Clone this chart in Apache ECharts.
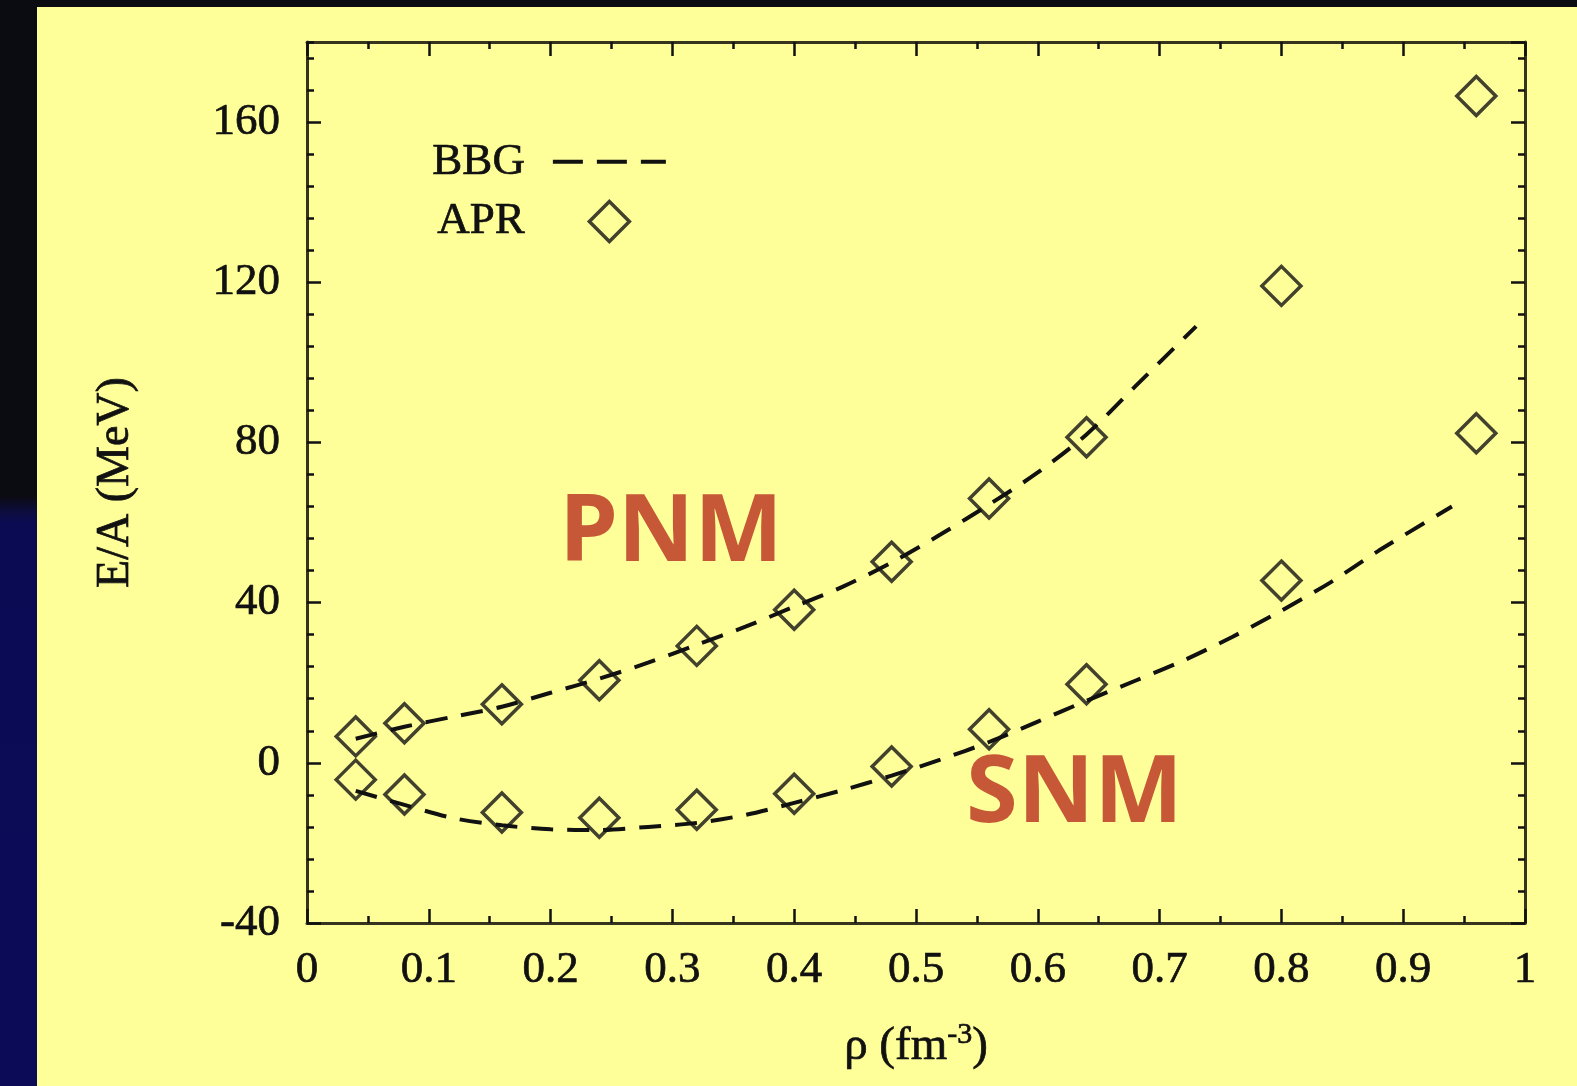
<!DOCTYPE html>
<html>
<head>
<meta charset="utf-8">
<script src="https://cdn.jsdelivr.net/npm/echarts@6/dist/echarts.min.js"></script>
<style>
  html, body { margin: 0; padding: 0; width: 1577px; height: 1086px; overflow: hidden; }
  body {
    background: linear-gradient(to bottom, #0b0b12 0px, #0b0b12 496px, #0d0d3a 510px, #0b0b54 524px, #0b0b58 1086px);
  }
  #panel { position: absolute; left: 37px; top: 7px; right: 0; bottom: 0; background: #ffff9a; }
  #chart { position: absolute; left: 0; top: 0; width: 1577px; height: 1086px; }
</style>
</head>
<body>
<div id="panel"></div>
<div id="chart"></div>
<script>
// Density grid (fm^-3) where the APR variational energies are given
const rho = [0.04, 0.08, 0.16, 0.24, 0.32, 0.40, 0.48, 0.56, 0.64, 0.80, 0.96];
// APR energy per nucleon (MeV): pure neutron matter and symmetric nuclear matter
const aprPNM = [6.6, 9.9, 14.6, 20.6, 29.2, 38.2, 50.2, 66.0, 81.3, 119.1, 166.5];
const aprSNM = [-4.2, -7.9, -12.4, -13.7, -11.7, -7.7, -0.9, 8.4, 19.6, 45.5, 82.3];

// BBG (Brueckner-Bethe-Goldstone) curves
const bbgPNMRho = [0.04, 0.08, 0.12, 0.16, 0.20, 0.24, 0.28, 0.32, 0.36, 0.40, 0.44, 0.48, 0.52, 0.56, 0.60, 0.64, 0.68, 0.73];
const bbgPNM    = [6.0, 9.0, 11.5, 14.0, 17.5, 21.0, 25.0, 29.5, 34.0, 39.0, 44.0, 50.0, 57.0, 64.5, 72.5, 82.0, 94.0, 109.0];
const bbgSNMRho = [0.04, 0.08, 0.12, 0.16, 0.20, 0.24, 0.28, 0.32, 0.36, 0.40, 0.44, 0.48, 0.52, 0.56, 0.60, 0.64, 0.68, 0.72, 0.76, 0.80, 0.84, 0.88, 0.94];
const bbgSNM    = [-7.0, -10.5, -13.8, -15.6, -16.6, -16.8, -16.0, -15.0, -13.0, -10.0, -6.8, -3.2, 0.8, 5.2, 10.3, 15.5, 20.5, 25.6, 31.5, 38.0, 45.0, 53.0, 64.0];

// Tick labels
const xTickLabels = ['0', '0.1', '0.2', '0.3', '0.4', '0.5', '0.6', '0.7', '0.8', '0.9', '1'];
const yTickLabels = ['-40', '0', '40', '80', '120', '160'];

// Hand-written matter labels placed in data space
const matterLabels = [
  { name: 'PNM', value: [0.299, 57] },
  { name: 'SNM', value: [0.630, -8] }
];

const pairs = (xs, ys) => xs.map((x, i) => [x, ys[i]]);

const SERIF = "'Liberation Serif', 'Times New Roman', 'DejaVu Serif', serif";
const INK = '#111';
const FRAME = '#36341e';
// a faint outline gives the serif glyphs a slightly heavier print weight
const inkText = { fontFamily: SERIF, color: INK, textBorderColor: INK, textBorderWidth: 0.7 };

function xAxisDef(position, interval, len, withLabels) {
  return {
    type: 'value', position: position, min: 0, max: 1, interval: interval,
    axisLine: { show: withLabels !== null, onZero: false, lineStyle: { color: FRAME, width: 3 } },
    axisTick: { show: true, inside: true, length: len, lineStyle: { color: INK, width: 2.5 } },
    axisLabel: withLabels ? Object.assign({
      show: true, margin: 25, fontSize: 45,
      formatter: v => xTickLabels[Math.round(v * 10)]
    }, inkText) : { show: false },
    splitLine: { show: false }
  };
}
function yAxisDef(position, interval, len, withLabels) {
  return {
    type: 'value', position: position, min: -40, max: 180, interval: interval,
    axisLine: { show: withLabels !== null, onZero: false, lineStyle: { color: FRAME, width: 3 } },
    axisTick: { show: true, inside: true, length: len, lineStyle: { color: INK, width: 2.5 } },
    axisLabel: withLabels ? Object.assign({
      show: true, margin: 27, fontSize: 45, showMaxLabel: false,
      formatter: v => { const i = Math.round((v + 40) / 40); return (v <= 160 && Math.abs(v - (i * 40 - 40)) < 1e-6) ? yTickLabels[i] : ''; }
    }, inkText) : { show: false },
    splitLine: { show: false }
  };
}

const xAxes = [
  xAxisDef('bottom', 0.1, 14, true),
  xAxisDef('bottom', 0.05, 7, null),
  xAxisDef('top', 0.1, 14, false),
  xAxisDef('top', 0.05, 7, null)
];
xAxes[0].name = '{a|ρ (fm}{s|-3}{a|)}';
xAxes[0].nameLocation = 'middle';
xAxes[0].nameGap = 97;
xAxes[0].nameTextStyle = {
  rich: {
    a: Object.assign({ fontSize: 47, lineHeight: 54 }, inkText),
    s: Object.assign({ fontSize: 30, verticalAlign: 'top', lineHeight: 32 }, inkText)
  }
};

const yAxes = [
  yAxisDef('left', 40, 14, true),
  yAxisDef('left', 8, 7, null),
  yAxisDef('right', 40, 14, false),
  yAxisDef('right', 8, 7, null)
];
yAxes[0].name = 'E/A (MeV)';
yAxes[0].nameLocation = 'middle';
yAxes[0].nameRotate = 90;
yAxes[0].nameGap = 168;
yAxes[0].nameTextStyle = Object.assign({ fontSize: 46 }, inkText);

const dashLine = { color: INK, width: 4, type: [22, 14] };
const diamondStyle = { color: 'rgba(0,0,0,0)', borderColor: INK, borderWidth: 3.5 };

const chart = echarts.init(document.getElementById('chart'), null, { renderer: 'canvas' });
chart.setOption({
  backgroundColor: 'transparent',
  animation: false,
  grid: { left: 307, right: 52, top: 42, bottom: 163, containLabel: false },
  xAxis: xAxes,
  yAxis: yAxes,
  legend: {
    data: [
      { name: 'BBG' },
      { name: 'APR', icon: 'path://M20,0 L40,20 L20,40 L0,20 Z' }
    ],
    orient: 'vertical',
    align: 'right',
    left: 432,
    top: 139,
    padding: 0,
    itemWidth: 113,
    itemHeight: 40,
    itemGap: 14,
    selectedMode: false,
    symbolKeepAspect: true,
    itemStyle: { color: 'rgba(0,0,0,0)', borderColor: INK, borderWidth: 3.5 },
    lineStyle: { width: 4, type: [30, 14] },
    textStyle: Object.assign({ fontSize: 45, lineHeight: 40, padding: [0, 23, 0, 0] }, inkText)
  },
  series: [
    {
      name: 'BBG', type: 'line', data: pairs(bbgPNMRho, bbgPNM),
      smooth: 0.3, symbol: 'none', showSymbol: false, lineStyle: dashLine,
      itemStyle: { color: INK, opacity: 0 }, z: 2
    },
    {
      name: 'BBG', type: 'line', data: pairs(bbgSNMRho, bbgSNM),
      smooth: 0.3, symbol: 'none', showSymbol: false, lineStyle: dashLine,
      itemStyle: { color: INK, opacity: 0 }, z: 2
    },
    {
      name: 'APR', type: 'scatter', data: pairs(rho, aprPNM),
      symbol: 'diamond', symbolSize: 39, itemStyle: diamondStyle, z: 3
    },
    {
      name: 'APR', type: 'scatter', data: pairs(rho, aprSNM),
      symbol: 'diamond', symbolSize: 39, itemStyle: diamondStyle, z: 3
    },
    {
      name: 'matter', type: 'scatter', data: matterLabels, silent: true,
      symbol: 'circle', symbolSize: 1, itemStyle: { color: 'rgba(0,0,0,0)' }, z: 4,
      label: {
        show: true, position: 'inside', formatter: '{b}',
        fontFamily: "'Noto Sans', 'DejaVu Sans', sans-serif", fontWeight: 'bold',
        fontSize: 94, color: '#b92e1e'
      }
    }
  ]
});
</script>
</body>
</html>
